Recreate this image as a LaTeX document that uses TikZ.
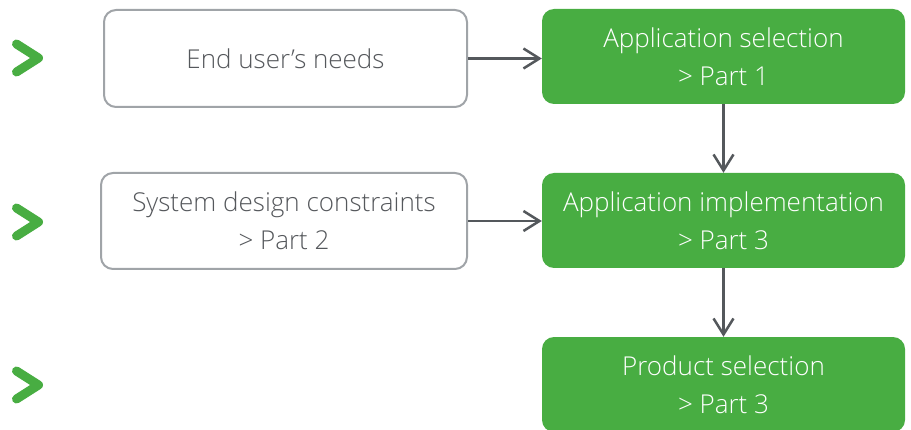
\documentclass[tikz,border=0pt]{standalone}
\usepackage{fontspec}
\setmainfont{Open Sans}[UprightFont=* Light]
\usetikzlibrary{arrows.meta}
\definecolor{sgreen}{RGB}{72,173,66}
\definecolor{bordergray}{RGB}{160,164,168}
\definecolor{textgray}{RGB}{85,88,92}
\definecolor{arrowgray}{RGB}{84,88,92}
\begin{document}
\begin{tikzpicture}[x=1pt,y=1pt,
  txt/.style={font=\fontsize{26}{38}\selectfont, align=center, inner sep=0pt},
  whitebox/.style={txt, draw=bordergray, line width=2pt, rounded corners=12pt, fill=white, text=textgray},
  greenbox/.style={txt, fill=sgreen, rounded corners=12pt, text=white},
  conn/.style={draw=arrowgray, line width=2.5pt, -{Straight Barb[length=16pt,width=20pt,line width=2.5pt]}},
  chev/.style={draw=sgreen, line width=9pt, line cap=round, line join=round}
]
\useasboundingbox (0,0) rectangle (911,429);

\node[whitebox, minimum width=363pt, minimum height=97pt] (w1) at (285.5,370.5) {End user’s needs};
\node[whitebox, minimum width=366pt, minimum height=96pt] (w2) at (284,208) {System design constraints\\> Part 2};

\node[greenbox, minimum width=363pt, minimum height=95pt] (g1) at (723.5,372.5) {Application selection\\> Part 1};
\node[greenbox, minimum width=363pt, minimum height=95pt] (g2) at (723.5,208.5) {Application implementation\\> Part 3};
\node[greenbox, minimum width=363pt, minimum height=95pt] (g3) at (723.5,44.5) {Product selection\\> Part 3};

\draw[conn] (w1.east) -- (w1.east -| g1.west);
\draw[conn] (w2.east) -- (w2.east -| g2.west);
\draw[conn] (g1.south) -- (g2.north);
\draw[conn] (g2.south) -- (g3.north);

\coordinate (c1a) at (16.5,385); \coordinate (c1b) at (38.5,371); \coordinate (c1c) at (16.5,357);
\coordinate (c2a) at (16.5,221); \coordinate (c2b) at (38.5,207); \coordinate (c2c) at (16.5,193);
\coordinate (c3a) at (16.5,58); \coordinate (c3b) at (38.5,44); \coordinate (c3c) at (16.5,30);
\draw[chev] (c1a) -- (c1b) -- (c1c);
\draw[chev] (c2a) -- (c2b) -- (c2c);
\draw[chev] (c3a) -- (c3b) -- (c3c);
\end{tikzpicture}
\end{document}
